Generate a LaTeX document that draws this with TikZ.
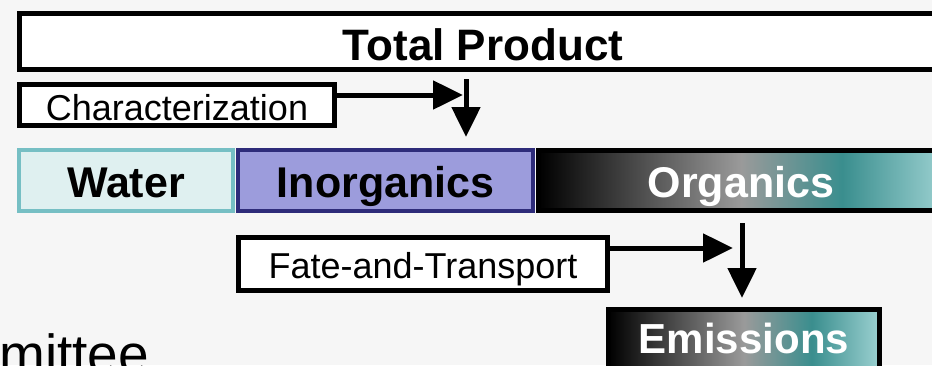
\documentclass[tikz,border=0pt]{standalone}
\usepackage{fontspec}
\setmainfont{Liberation Sans}
\usetikzlibrary{arrows.meta}

\definecolor{bgray}{HTML}{F6F6F6}
\definecolor{waterfill}{HTML}{DFF0F0}
\definecolor{waterline}{HTML}{76BFC4}
\definecolor{inorgfill}{HTML}{9C9CDC}
\definecolor{inorgline}{HTML}{2E2C7A}
\definecolor{midgray}{HTML}{9A9A9A}
\definecolor{darkteal}{HTML}{3A8E8E}
\definecolor{lightteal}{HTML}{9BD0D0}
\pgfdeclarehorizontalshading{orggrad}{100bp}{color(0bp)=(black); color(25bp)=(black); color(50bp)=(midgray); color(62.5bp)=(darkteal); color(75bp)=(lightteal); color(100bp)=(lightteal)}

\begin{document}
\begin{tikzpicture}[x=1pt,y=-1pt,
    tag/.style={draw,line width=5pt,fill=white,inner sep=0pt,text depth=0pt,font=\fontsize{36}{40}\selectfont},
    band/.style={draw,line width=4pt,inner sep=0pt,minimum height=61pt,text height=33pt,text depth=0pt,font=\fontsize{43}{48}\selectfont\bfseries},
    gradbox/.style={shade,shading=orggrad,draw=black,line width=5pt,inner sep=0pt,text depth=0pt,text=white,font=\fontsize{43}{48}\selectfont\bfseries},
    flow/.style={-{Triangle[length=30pt,width=28pt]},line width=5pt}]
        \fill[bgray] (0,0) rectangle (932,365);
        \useasboundingbox (0,0) rectangle (932,365);
        \node[tag,minimum width=927pt,minimum height=56pt,text height=37pt,font=\fontsize{44}{48}\selectfont\bfseries] (total) at (483,41.5) {Total Product};
        \node[tag,minimum width=315pt,minimum height=41pt,text height=30pt] (charact) at (177,105) {Characterization};
        \node[band,fill=waterfill,draw=waterline,minimum width=214pt] (water) at (126,180.5) {Water};      % water
        \node[band,fill=inorgfill,draw=inorgline,minimum width=295pt] (inorg) at (385.5,180.5) {Inorganics};  % inorganics
        \node[gradbox,minimum width=405pt,minimum height=60pt,text height=33pt] (organ) at (741,180.5) {Organics};  % organics
        \node[tag,minimum width=369pt,minimum height=53pt,text height=28pt] (fate) at (423,264) {Fate-and-Transport};
        \node[gradbox,minimum width=271pt,minimum height=64pt,text height=23pt,font=\fontsize{42}{46}\selectfont\bfseries] (emiss) at (744,341.5) {Emissions};
        \node[anchor=base west,inner sep=0pt,font=\fontsize{55}{60}\selectfont] (mittee) at (-1,373) {mittee};
        \coordinate (chartip) at (463,95);
        \coordinate (chartop) at (466,79);
        \coordinate (charend) at (466,137);
        \coordinate (fatetip) at (733,248);
        \coordinate (fatetop) at (742,223);
        \coordinate (fateend) at (742,298);
        \draw[flow] (charact.east |- chartip) -- (chartip);   % into the drop
        \draw[flow] (chartop) -- (charend);                   % down to inorganics
        \draw[flow] (fate.east |- fatetip) -- (fatetip);
        \draw[flow] (fatetop) -- (fateend);                   % down to emissions
    \end{tikzpicture}
\end{document}
